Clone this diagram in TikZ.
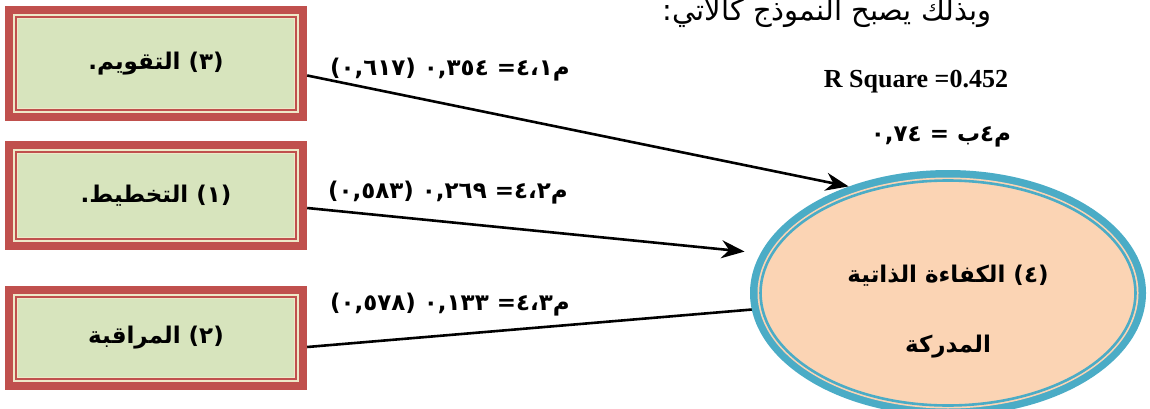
\documentclass[tikz,border=0pt]{standalone}
\usepackage{fontspec}
\setmainfont{Liberation Serif}
\newfontfamily\arabicfont[Script=Arabic]{DejaVu Sans}
\TeXXeTstate=1
\usetikzlibrary{arrows.meta,shapes.geometric}
\definecolor{boxred}{HTML}{C0504D}
\definecolor{boxgreen}{HTML}{D7E4BD}
\definecolor{cream}{HTML}{EEE8C8}
\definecolor{eblue}{HTML}{4BACC6}
\definecolor{peach}{HTML}{FBD4B4}
\tikzset{
  framebox/.style={rectangle, minimum width=302pt, minimum height=#1, inner sep=0pt,
    fill=boxred, font=\arabicfont\bfseries\fontsize{23}{27}\selectfont,
    path picture={
      \fill[cream] ([shift={(8pt,8pt)}]path picture bounding box.south west) rectangle ([shift={(-8pt,-8pt)}]path picture bounding box.north east);
      \fill[boxred] ([shift={(9.7pt,9.7pt)}]path picture bounding box.south west) rectangle ([shift={(-9.7pt,-9.7pt)}]path picture bounding box.north east);
      \fill[cream] ([shift={(11.7pt,11.7pt)}]path picture bounding box.south west) rectangle ([shift={(-11.7pt,-11.7pt)}]path picture bounding box.north east);
      \fill[boxgreen] ([shift={(13.2pt,13.2pt)}]path picture bounding box.south west) rectangle ([shift={(-13.2pt,-13.2pt)}]path picture bounding box.north east);
    }},
  effshape/.style={ellipse, minimum width=396pt, minimum height=246pt, inner sep=0pt, fill=eblue,
    path picture={
      \fill[peach] (path picture bounding box.center) ellipse [x radius=190.5pt, y radius=115.5pt];
      \draw[eblue, line width=2.6pt] (path picture bounding box.center) ellipse [x radius=187.5pt, y radius=112.5pt];
    }},
  efftext/.style={align=center, font=\arabicfont\bfseries\fontsize{23}{70}\selectfont},
  lab/.style={font=\arabicfont\bfseries\fontsize{23}{27}\selectfont, inner sep=0pt},
  conn/.style={draw=black, line width=2.6pt},
  tip/.style={-{Stealth[length=23pt,width=18pt]}},
}
\begin{document}
\begin{tikzpicture}[x=1pt,y=1pt]
\useasboundingbox (0,0) rectangle (1150,408);
% boxes
\node[framebox=115pt] (b1) at (156,344.5) {\beginR (٣) التقويم.\endR};
\node[framebox=109pt] (b2) at (156,212.5) {\beginR (١) التخطيط.\endR};
\node[framebox=104pt] (b3) at (156,70) {\beginR (٢) المراقبة\endR};
% connectors
\draw[conn] ([yshift=-9pt]b3.east) coordinate (s3) -- (948,115);
% ellipse
\node[effshape] (eff) at (948,115) {};
\node[efftext] (efft) at ([yshift=-19pt]eff.center) {\beginR (٤) الكفاءة الذاتية\endR\\\beginR المدركة\endR};
\draw[conn, tip] ([yshift=-12pt]b1.east) -- (eff.133);
\draw[conn, tip, shorten >=16pt] ([yshift=-12.5pt]b2.east) -- (eff.168.6);
% labels
\node[lab, anchor=base east] (l1) at (570,333) {\beginR م٤،١= ٠,٣٥٤ (٠,٦١٧)\endR};
\node[lab, anchor=base east] (l2) at (568,210) {\beginR م٤،٢= ٠,٢٦٩ (٠,٥٨٣)\endR};
\node[lab, anchor=base east] (l3) at (570,98) {\beginR م٤،٣= ٠,١٣٣ (٠,٥٧٨)\endR};
% right texts
\node[font=\arabicfont\fontsize{29}{33}\selectfont, anchor=base east, inner sep=0pt] (title) at (992,387) {\beginR وبذلك يصبح النموذج كالآتي:\endR};
\node[font=\bfseries\fontsize{26}{30}\selectfont, anchor=base, inner sep=0pt] (rsq) at (916,321) {R Square =0.452};
\node[lab, anchor=base] (beta) at (941,267) {\beginR م٤ب = ٠,٧٤\endR};
\end{tikzpicture}
\end{document}
